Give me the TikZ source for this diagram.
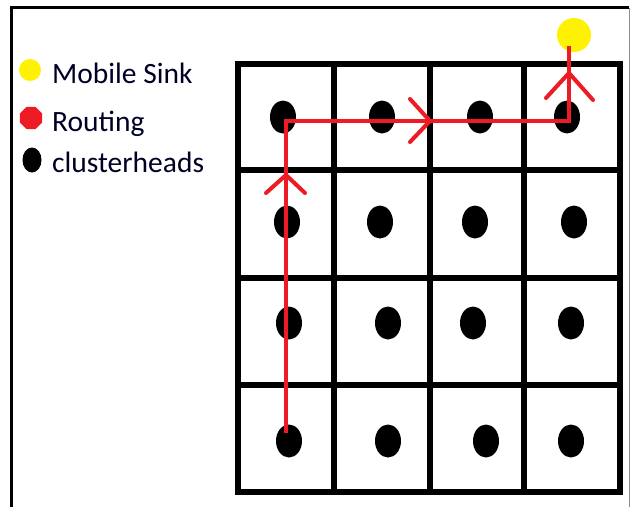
\documentclass[tikz,border=0pt]{standalone}
\usepackage{fontspec}
\setmainfont{Carlito}
\usetikzlibrary{shapes.geometric}
\definecolor{pred}{RGB}{237,28,36}
\definecolor{pyellow}{RGB}{255,242,0}
\tikzset{
  chead/.style={ellipse, fill=black, minimum width=26pt, minimum height=33pt, inner sep=0pt},
  gridline/.style={line width=5.5pt, line cap=rect},
  route/.style={pred, line width=4pt},
  chevron/.style={pred, line width=4pt, line cap=round, line join=round},
  legtext/.style={anchor=base west, inner sep=0pt, font=\fontsize{29.5}{31}\selectfont, text=black!85!blue}
}
\begin{document}
\begin{tikzpicture}[x=1pt,y=-1pt]
\useasboundingbox (0,0) rectangle (631,506);
\fill[white] (0,0) rectangle (631,506);
% outer frame
\draw[black, line width=3.5pt] (11.5,520) -- (11.5,7.5) -- (629,7.5);
\draw[black!45, line width=1.5pt] (629.5,7.5) -- (629.5,520);
% grid
\foreach \xx in {238,334,430,524,620} \draw[gridline] (\xx,64) -- (\xx,492);
\foreach \yy in {64,170,278,385,492} \draw[gridline] (238,\yy) -- (620,\yy);
% clusterheads
\node[chead] (d11) at (283,117) {};
\node[chead] (d12) at (382,117) {};
\node[chead] (d13) at (480,117) {};
\node[chead] (d14) at (567,117) {};
\node[chead] (d21) at (287,222) {};
\node[chead] (d22) at (380,222) {};
\node[chead] (d23) at (475,222) {};
\node[chead] (d24) at (574,222) {};
\node[chead] (d31) at (289,323) {};
\node[chead] (d32) at (388,323) {};
\node[chead] (d33) at (473,323) {};
\node[chead] (d34) at (571,323) {};
\node[chead] (d41) at (289,441) {};
\node[chead] (d42) at (388,441) {};
\node[chead] (d43) at (486,441) {};
\node[chead] (d44) at (571,441) {};
% mobile sink
\node[circle, fill=pyellow, minimum size=34pt, inner sep=0pt] (sink) at (574,35) {};
% routing path
\coordinate (rs) at (286,433);
\coordinate (rc1) at (286,121);
\coordinate (rc2) at (569,121);
\coordinate (re) at (569,46);
\draw[route, line join=miter] (rs) -- (rc1) -- (rc2) -- (re);
% chevrons
\draw[chevron] (266,193) -- (286,175) -- (305,193);
\draw[chevron] (410,99) -- (430,121) -- (410,142);
\draw[chevron] (546,98) -- (569,73) -- (593,100);
% legend
\node[circle, fill=pyellow, minimum size=22pt, inner sep=0pt] (ly) at (30,70) {};
\node[regular polygon, regular polygon sides=8, fill=pred, minimum size=24pt, inner sep=0pt] (lr) at (31,118) {};
\node[ellipse, fill=black, minimum width=19pt, minimum height=25pt, inner sep=0pt] (lb) at (32,160) {};
\node[legtext] (t1) at (52,83) {Mobile Sink};
\node[legtext] (t2) at (52,131) {Routing};
\node[legtext] (t3) at (52,172) {clusterheads};
\end{tikzpicture}
\end{document}
